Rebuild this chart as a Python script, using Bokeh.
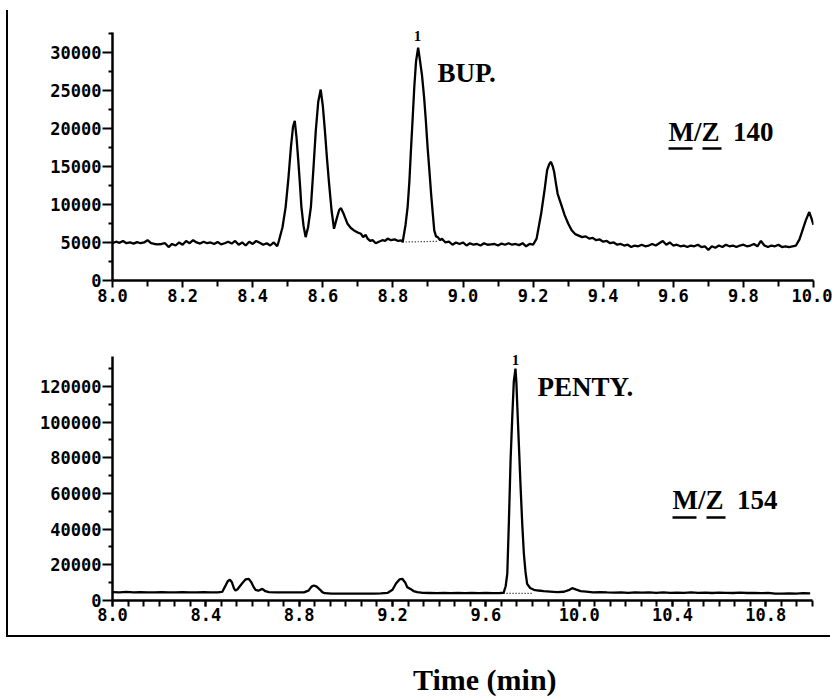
from bokeh.plotting import figure
from bokeh.models import FixedTicker, Label, Div, Range1d
from bokeh.layouts import column
from bokeh.embed import file_html
from bokeh.resources import INLINE

# ---------------- data: m/z 140 trace (top panel) ----------------
t140 = [8.00, 8.01, 8.02, 8.03, 8.04, 8.05, 8.06, 8.07, 8.08, 8.09,
        8.10, 8.11, 8.12, 8.13, 8.14, 8.15, 8.16, 8.17, 8.18, 8.19,
        8.20, 8.21, 8.22, 8.23, 8.24, 8.25, 8.26, 8.27, 8.28, 8.29,
        8.30, 8.31, 8.32, 8.33, 8.34, 8.35, 8.36, 8.37, 8.38, 8.39,
        8.40, 8.41, 8.42, 8.43, 8.44, 8.45, 8.46, 8.47,
        8.475, 8.485, 8.494, 8.502, 8.509, 8.515, 8.520, 8.525, 8.530, 8.535,
        8.539, 8.545, 8.551, 8.558, 8.566, 8.573, 8.580, 8.587, 8.594, 8.600,
        8.606, 8.612, 8.618, 8.625, 8.632, 8.640, 8.647, 8.652, 8.660, 8.670,
        8.680, 8.689, 8.700, 8.709, 8.715, 8.722, 8.728, 8.735, 8.742, 8.751,
        8.760, 8.770, 8.778, 8.785, 8.795, 8.805, 8.815, 8.823, 8.828, 8.836,
        8.842, 8.847, 8.851, 8.856, 8.861, 8.866, 8.872, 8.877, 8.883, 8.889,
        8.894, 8.899, 8.904, 8.909, 8.914, 8.918, 8.923, 8.928, 8.935,
        8.94, 8.95, 8.96, 8.97, 8.98, 8.99, 9.00, 9.01, 9.02, 9.03,
        9.04, 9.05, 9.06, 9.07, 9.08, 9.09, 9.10, 9.11, 9.12, 9.13,
        9.14, 9.15, 9.16, 9.17, 9.18, 9.19, 9.20, 9.21, 9.223, 9.233,
        9.24, 9.246, 9.251, 9.256, 9.26, 9.265, 9.27, 9.28, 9.29, 9.30,
        9.31, 9.32, 9.33, 9.34, 9.35, 9.36, 9.37, 9.38, 9.39, 9.40,
        9.41, 9.42, 9.43, 9.44, 9.45, 9.46, 9.47, 9.48, 9.49, 9.50,
        9.51, 9.52, 9.53, 9.54, 9.55, 9.56, 9.57, 9.58, 9.59, 9.60,
        9.61, 9.62, 9.63, 9.64, 9.65, 9.66, 9.67, 9.68, 9.69, 9.70,
        9.71, 9.72, 9.73, 9.74, 9.75, 9.76, 9.77, 9.78, 9.79, 9.80,
        9.81, 9.82, 9.83, 9.84, 9.85, 9.86, 9.87, 9.88, 9.89, 9.90,
        9.91, 9.92, 9.93, 9.94, 9.95, 9.96, 9.97, 9.978, 9.988, 9.994,
        10.00]
i140 = [4900, 5100, 4950, 5200, 4900, 5000, 4850, 5050, 4900, 5000,
        5300, 4900, 4800, 4750, 4800, 4900, 4400, 4800, 4600, 5000,
        4700, 5200, 4900, 5300, 5000, 4850, 5100, 4900, 5000, 4800,
        5050, 4750, 4900, 5100, 4850, 5200, 4700, 5000, 4600, 5100,
        4800, 5200, 4950, 4700, 4900, 4600, 5000, 4500,
        5260, 7000, 9650, 13500, 17500, 20200, 21000, 18800, 15800, 12500,
        9650, 7200, 5700, 7000, 9650, 14500, 19700, 23500, 25100, 23000,
        19700, 16000, 12700, 9200, 6800, 8200, 9300, 9500, 8700, 7500,
        6900, 6580, 6300, 6140, 5700, 6000, 5500, 5200, 5300, 4900,
        5100, 5300, 5200, 5500, 5300, 5400, 5200, 5260, 5100, 7300,
        9650, 13000, 16700, 21000, 25400, 28800, 30600, 29000, 27000, 24100,
        21000, 17500, 14500, 11400, 8700, 6580, 5800, 5700, 5300,
        5500, 5000, 5100, 4700, 5000, 4800, 5000, 4600, 4900, 4700,
        4800, 4600, 4900, 4700, 4750, 4800, 4600, 4850, 4700, 4900,
        4700, 4800, 4650, 4900, 4500, 4800, 4700, 5500, 8800, 12000,
        14500, 15300, 15600, 15000, 14300, 12800, 11400, 10000, 8600, 7500,
        6600, 6100, 5900, 5700, 5800, 5500, 5600, 5300, 5400, 5100,
        5200, 4900, 5000, 4700, 4800, 4600, 4700, 4400, 4600, 4500,
        4700, 4500, 4600, 4800, 4600, 4900, 5200, 4700, 5000, 4600,
        4700, 4500, 4600, 4400, 4600, 4500, 4700, 4400, 4500, 4000,
        4500, 4300, 4600, 4400, 4700, 4500, 4600, 4400, 4600, 4700,
        4500, 4600, 4800, 4500, 5200, 4600, 4400, 4600, 4500, 4700,
        4400, 4500, 4400, 4500, 4600, 5400, 6800, 7900, 9000, 8200,
        7300]
base140_t = [8.828, 8.925]
base140_i = [5050, 5150]

# ---------------- data: m/z 154 trace (bottom panel) ----------------
t154 = [8.00, 8.03, 8.06, 8.09, 8.12, 8.15, 8.18, 8.21, 8.24, 8.27,
        8.30, 8.33, 8.36, 8.39, 8.42, 8.45, 8.47, 8.485, 8.495, 8.503,
        8.512, 8.52, 8.527, 8.535, 8.555, 8.57, 8.584, 8.596, 8.605, 8.613,
        8.625, 8.642, 8.655, 8.67, 8.70, 8.73, 8.76, 8.79, 8.82, 8.84,
        8.853, 8.863, 8.875, 8.89, 8.899, 8.91, 8.94, 8.97, 9.00, 9.03,
        9.06, 9.09, 9.12, 9.15, 9.18, 9.20, 9.215, 9.23, 9.242, 9.255,
        9.263, 9.277, 9.29, 9.306, 9.33, 9.36, 9.39, 9.42, 9.45, 9.48,
        9.51, 9.54, 9.57, 9.60, 9.63, 9.66, 9.676, 9.685, 9.692, 9.699,
        9.706, 9.713, 9.72, 9.727, 9.731, 9.735, 9.742, 9.749, 9.756, 9.763,
        9.77, 9.777, 9.79, 9.806, 9.825, 9.848, 9.875, 9.906, 9.935, 9.955,
        9.97, 9.985, 10.006, 10.03, 10.06, 10.09, 10.12, 10.15, 10.18, 10.21,
        10.24, 10.27, 10.30, 10.33, 10.36, 10.39, 10.42, 10.45, 10.48, 10.51,
        10.54, 10.57, 10.60, 10.63, 10.66, 10.69, 10.72, 10.75, 10.78, 10.81,
        10.84, 10.87, 10.90, 10.93, 10.96, 10.99]
i154 = [4700, 4600, 4800, 4600, 4700, 4500, 4600, 4700, 4500, 4600,
        4700, 4600, 4500, 4700, 4600, 4600, 4800, 8500, 11000, 11600,
        10200, 7000, 5600, 6200, 9500, 11800, 12150, 10000, 7500, 6000,
        5500, 6500, 5200, 4700, 4600, 4500, 4600, 4500, 4600, 5500,
        7800, 8400, 7800, 6000, 4700, 4100, 3800, 3900, 3800, 3900,
        3800, 3900, 3800, 4000, 4300, 6000, 9500, 11800, 12150, 10000,
        7500, 6500, 5300, 4670, 4300, 4200, 4100, 4200, 4100, 4200,
        4100, 4200, 4100, 4200, 4100, 4200, 4300, 8000, 15100, 45000,
        78500, 102000, 123000, 130000, 122000, 108400, 86000, 63500, 43000, 26200,
        16000, 9350, 7000, 6000, 5600, 5230, 5000, 4670, 4900, 5800,
        6900, 6200, 5230, 5000, 4600, 4700, 4500, 4400, 4600, 4300,
        4500, 4400, 4600, 4300, 4500, 4300, 4400, 4300, 4500, 4300,
        4400, 4200, 4400, 4300, 4200, 4400, 4200, 4300, 4100, 4300,
        3900, 3800, 4000, 3800, 4100, 4000]
base154_t = [9.676, 9.80]
base154_i = [4000, 4000]

# ---------------- ticks ----------------
top_xticks = [8.0, 8.2, 8.4, 8.6, 8.8, 9.0, 9.2, 9.4, 9.6, 9.8, 10.0]
top_xlabels = ["8.0", "8.2", "8.4", "8.6", "8.8", "9.0", "9.2", "9.4", "9.6", "9.8", "10.0"]
top_xminor = [8.1, 8.3, 8.5, 8.7, 8.9, 9.1, 9.3, 9.5, 9.7, 9.9]
top_yticks = [0, 5000, 10000, 15000, 20000, 25000, 30000]
top_ylabels = ["0", "5000", "10000", "15000", "20000", "25000", "30000"]
top_yminor = [2500, 7500, 12500, 17500, 22500, 27500, 32500]

bot_xticks = [8.0, 8.4, 8.8, 9.2, 9.6, 10.0, 10.4, 10.8]
bot_xlabels = ["8.0", "8.4", "8.8", "9.2", "9.6", "10.0", "10.4", "10.8"]
bot_xminor = [round(8.0 + k / 15.0, 4) for k in range(46)]
bot_yticks = [0, 20000, 40000, 60000, 80000, 100000, 120000]
bot_ylabels = ["0", "20000", "40000", "60000", "80000", "100000", "120000"]
bot_yminor = [10000, 30000, 50000, 70000, 90000, 110000, 130000]

TICK_FONT = "DejaVu Sans Mono"
SERIF = "Liberation Serif"
NB = "\u00a0"

# ---------------- geometry (page pixels) ----------------
OFF = 8                       # layout margin (page origin of the figures)
PAGE_R = 832
# top panel: axes at x=112 (8.0) .. 813 (10.0); y axis 0 at 280, 32600 at 32
T_L, T_R, T_BOT = 112, 813, 280
T_AX_TOP, T_AXMAX = 32, 32600
T_FTOP = 18                   # frame top (room for peak marker)
T_PX = T_AXMAX / (T_BOT - T_AX_TOP)       # data units per pixel
T_YMAX = (T_BOT - T_FTOP) * T_PX
T_H = 318 - OFF
# bottom panel: x=112 (8.0) .. 812 (11.0); y 0 at 600, 136800 at 356
B_L, B_R, B_BOT = 112, 812, 600
B_AX_TOP, B_AXMAX = 356, 136800
B_FTOP = 344
B_PX = B_AXMAX / (B_BOT - B_AX_TOP)
B_YMAX = (B_BOT - B_FTOP) * B_PX
B_XMAX = 11.0
B_TOP_PAGE, B_END_PAGE = 318, 635


def style_axes(p):
    for ax in (p.xaxis[0], p.yaxis[0]):
        ax.axis_line_width = 2.5
        ax.axis_line_color = "black"
        ax.major_tick_line_width = 2
        ax.minor_tick_line_width = 2
        ax.major_tick_line_color = "black"
        ax.minor_tick_line_color = "black"
        ax.major_tick_in = 0
        ax.minor_tick_in = 0
        ax.major_label_text_font = TICK_FONT
        ax.major_label_text_font_style = "bold"
        ax.major_label_text_font_size = "17px"
        ax.major_label_text_color = "black"
    p.xaxis[0].major_tick_out = 7
    p.xaxis[0].minor_tick_out = 6
    p.xaxis[0].major_label_standoff = 1
    p.yaxis[0].major_tick_out = 10
    p.yaxis[0].minor_tick_out = 4
    p.yaxis[0].major_label_standoff = 1
    p.xgrid.visible = False
    p.ygrid.visible = False
    p.outline_line_color = None
    p.background_fill_color = "white"
    p.border_fill_color = "white"


def tx(px):
    return 8.0 + (px - T_L) / (T_R - T_L) * 2.0


def ty(py):
    return (T_BOT - py) * T_PX


def bx(px):
    return 8.0 + (px - B_L) / (B_R - B_L) * (B_XMAX - 8.0)


def by(py):
    return (B_BOT - py) * B_PX


def serif_label(x, y, text, size="27px", bold=True, align="left"):
    return Label(x=x, y=y, text=text, text_align=align, text_baseline="bottom",
                 text_font=SERIF, text_font_style="bold" if bold else "normal",
                 text_font_size=size, text_color="black")


# ---------------- top panel ----------------
p1 = figure(frame_width=T_R - T_L, frame_height=T_BOT - T_FTOP,
            width=PAGE_R - OFF, height=T_H,
            min_border_left=T_L - OFF, min_border_right=PAGE_R - T_R,
            min_border_top=T_FTOP - OFF, min_border_bottom=T_H - (T_BOT - OFF),
            x_range=Range1d(8.0, 10.0), y_range=Range1d(0, T_YMAX),
            output_backend="svg", toolbar_location=None, tools="")
style_axes(p1)
p1.xaxis[0].ticker = FixedTicker(ticks=top_xticks, minor_ticks=top_xminor)
p1.xaxis[0].major_label_overrides = dict(zip(top_xticks, top_xlabels))
p1.yaxis[0].ticker = FixedTicker(ticks=top_yticks, minor_ticks=top_yminor)
p1.yaxis[0].major_label_overrides = dict(zip(top_yticks, top_ylabels))
p1.yaxis[0].bounds = (0, T_AXMAX)

p1.line(t140, i140, line_color="black", line_width=2.3)
p1.line(base140_t, base140_i, line_color="black", line_width=1.2, line_dash="1 2")

# text boxes: y is the bottom of the text box (baseline + ~4 px)
p1.add_layout(serif_label(tx(417), ty(40), "1", size="15px", bold=True, align="center"))
p1.add_layout(serif_label(tx(437), ty(87), "BUP."))
p1.add_layout(serif_label(tx(668), ty(146), "M/Z" + NB + NB + "140"))
p1.segment(x0=[tx(668), tx(702)], y0=[ty(148), ty(148)],
           x1=[tx(692), tx(721)], y1=[ty(148), ty(148)],
           line_color="black", line_width=2.5)

# ---------------- bottom panel ----------------
B_H = B_END_PAGE - B_TOP_PAGE
p2 = figure(frame_width=B_R - B_L, frame_height=B_BOT - B_FTOP,
            width=PAGE_R - OFF, height=B_H,
            min_border_left=B_L - OFF, min_border_right=PAGE_R - B_R,
            min_border_top=B_FTOP - B_TOP_PAGE, min_border_bottom=B_END_PAGE - B_BOT,
            x_range=Range1d(8.0, B_XMAX), y_range=Range1d(0, B_YMAX),
            output_backend="svg", toolbar_location=None, tools="")
style_axes(p2)
p2.xaxis[0].ticker = FixedTicker(ticks=bot_xticks, minor_ticks=bot_xminor)
p2.xaxis[0].major_label_overrides = dict(zip(bot_xticks, bot_xlabels))
p2.xaxis[0].major_tick_out = 6
p2.xaxis[0].minor_tick_out = 6
p2.yaxis[0].ticker = FixedTicker(ticks=bot_yticks, minor_ticks=bot_yminor)
p2.yaxis[0].major_label_overrides = dict(zip(bot_yticks, bot_ylabels))
p2.yaxis[0].bounds = (0, B_AXMAX)

p2.line(t154, i154, line_color="black", line_width=2.3)
p2.line(base154_t, base154_i, line_color="black", line_width=1.2, line_dash="1 2")

p2.add_layout(serif_label(bx(515), by(364), "1", size="15px", bold=True, align="center"))
p2.add_layout(serif_label(bx(537), by(401), "PENTY."))
p2.add_layout(serif_label(bx(672), by(514), "M/Z" + NB + NB + "154"))
p2.segment(x0=[bx(672), bx(706)], y0=[by(517), by(517)],
           x1=[bx(696), bx(725)], y1=[by(517), by(517)],
           line_color="black", line_width=2.5)

panels = column(p1, p2, spacing=0,
                styles={"box-shadow": "-2px 2px 0 0 #000"})

title = Div(text='<div style="position:relative;left:400px;top:25px;'
                 'font:bold 30px \'Liberation Serif\';line-height:30px;'
                 'white-space:nowrap;color:#000">Time (min)</div>',
            width=PAGE_R - OFF, height=60, styles={"overflow": "visible"})

layout = column(panels, title, spacing=0, margin=(OFF, 0, 0, OFF))

open("out.html", "w").write(file_html(layout, INLINE))
